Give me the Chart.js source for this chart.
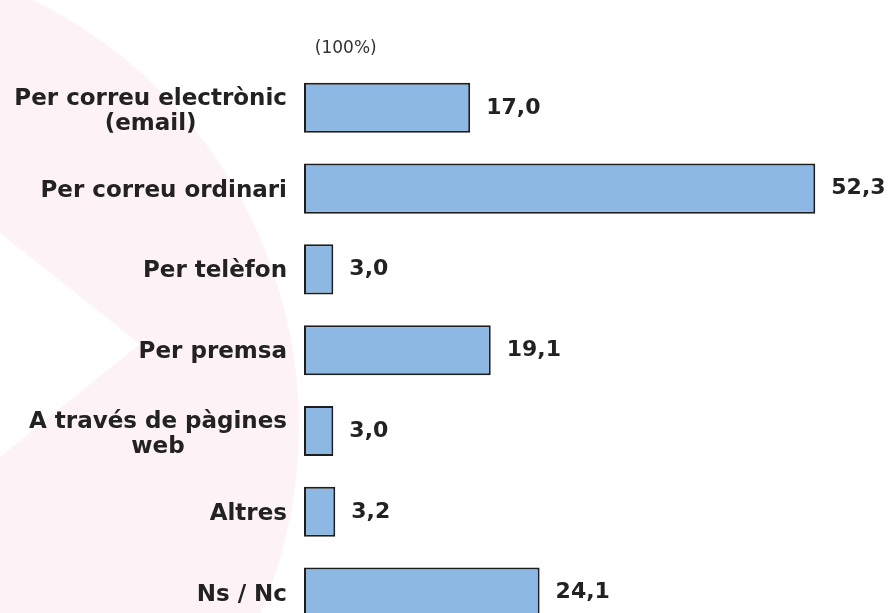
<!DOCTYPE html>
<html>
<head>
<meta charset="utf-8">
<script src="https://cdn.jsdelivr.net/npm/chart.js@4.4.1/dist/chart.umd.min.js"></script>
<style>
  html, body { margin: 0; padding: 0; background: #fff; overflow: hidden; }
  #wrap { width: 888px; height: 650px; position: relative; }
</style>
</head>
<body>
<div id="wrap"><canvas id="myChart"></canvas></div>
<script>
// canals d'informació (%)
var categories = [
    ['Per correu electrònic', '(email)'],
    ['Per correu ordinari'],
    ['Per telèfon'],
    ['Per premsa'],
    ['A través de pàgines', 'web'],
    ['Altres'],
    ['Ns / Nc']
]
var values = [17.0, 52.3, 3.0, 19.1, 3.0, 3.2, 24.1]
var unitLabel = '(100%)'

var textColor = '#222222'
var labelFont = 'bold 23px "DejaVu Sans"'
var valueFont = 'bold 22px "DejaVu Sans"'

Chart.defaults.font.family = '"DejaVu Sans", Verdana, sans-serif'

// soft pink disc behind the category names, with a white notch on the left edge
const backdrop = {
    id: 'backdrop',
    beforeDraw(chart) {
        const ctx = chart.ctx
        ctx.save()
        ctx.fillStyle = '#fdf3f6'
        ctx.beginPath()
        ctx.arc(-175, 426, 474, 0, Math.PI * 2)
        ctx.fill()
        ctx.fillStyle = '#ffffff'
        ctx.beginPath()
        ctx.moveTo(0, 233)
        ctx.lineTo(140, 344)
        ctx.lineTo(0, 457)
        ctx.closePath()
        ctx.fill()
        ctx.restore()
    }
}

// category names: block right aligned against the axis, lines centred inside the block
const categoryNames = {
    id: 'categoryNames',
    afterDraw(chart) {
        const ctx = chart.ctx
        const yScale = chart.scales.y
        const right = yScale.right - 17
        const lineH = 25
        ctx.save()
        ctx.font = labelFont
        ctx.fillStyle = textColor
        ctx.textAlign = 'center'
        ctx.textBaseline = 'middle'
        categories.forEach((lines, i) => {
            let w = 0
            lines.forEach(l => { w = Math.max(w, ctx.measureText(l).width) })
            const cx = right - w / 2
            const cy = yScale.getPixelForValue(i) + 2
            const top = cy - (lines.length - 1) * lineH / 2 + (lines.length > 1 ? 2 : 0)
            lines.forEach((l, j) => ctx.fillText(l, cx, top + j * lineH))
        })
        ctx.restore()
    }
}

// value at the end of each bar, with a decimal comma
const valueLabels = {
    id: 'valueLabels',
    afterDatasetsDraw(chart) {
        const ctx = chart.ctx
        const meta = chart.getDatasetMeta(0)
        ctx.save()
        ctx.font = valueFont
        ctx.fillStyle = textColor
        ctx.textAlign = 'left'
        ctx.textBaseline = 'middle'
        meta.data.forEach((bar, i) => {
            ctx.fillText(values[i].toFixed(1).replace('.', ','), bar.x + 16, bar.y)
        })
        ctx.restore()
    }
}

var myChart
const ctx = document.getElementById('myChart').getContext('2d')
myChart = new Chart(ctx, {
    type: 'bar',
    data: {
        labels: categories,
        datasets: [{
            data: values,
            backgroundColor: '#8db8e3',
            borderColor: '#1e1e1e',
            borderWidth: 2,
            borderSkipped: false,
            barPercentage: 0.62,
            categoryPercentage: 1
        }]
    },
    options: {
        indexAxis: 'y',
        responsive: true,
        maintainAspectRatio: false,
        animation: false,
        events: [],
        layout: { padding: { top: 0, right: 17, bottom: 17, left: 0 } },
        plugins: {
            legend: { display: false },
            tooltip: { enabled: false }
        },
        scales: {
            x: {
                position: 'top',
                min: 0,
                max: 58,
                grid: { display: false, drawTicks: false },
                border: { display: false },
                ticks: { display: false },
                title: {
                    display: true,
                    text: '  ' + unitLabel,
                    align: 'start',
                    color: '#333333',
                    font: { size: 17, weight: 'normal' },
                    padding: { top: 38, bottom: 9 }
                }
            },
            y: {
                grid: { display: false, drawTicks: false },
                border: { display: false },
                ticks: { display: false },
                afterFit(scale) { scale.width = 304 }
            }
        }
    },
    plugins: [backdrop, categoryNames, valueLabels]
})
</script>
</body>
</html>
